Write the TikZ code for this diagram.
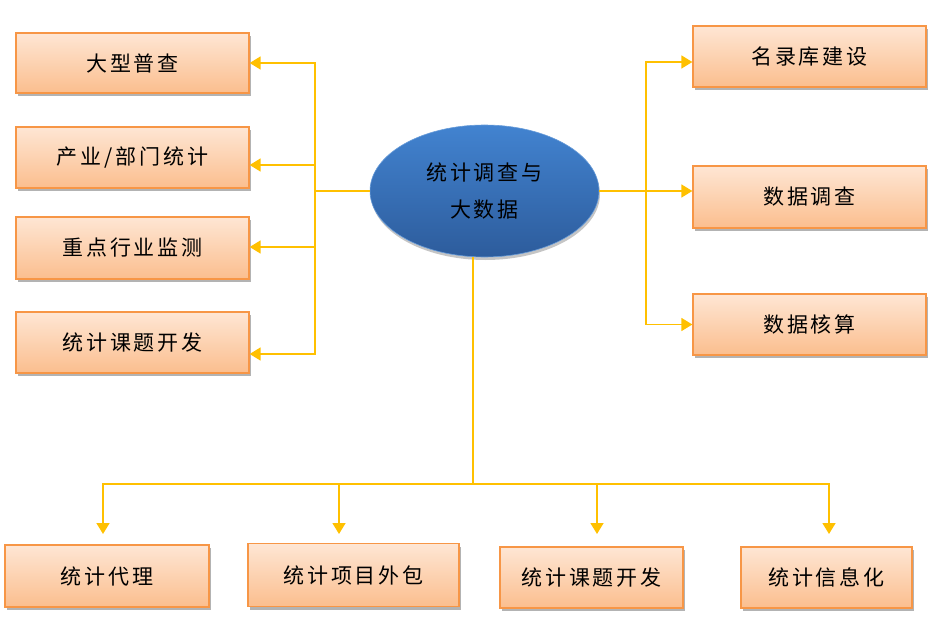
\documentclass[tikz,border=0pt]{standalone}
\usepackage{fontspec}
\newfontfamily\cjk[LetterSpace=14]{Noto Sans CJK SC}
\usetikzlibrary{arrows.meta,shadows,shapes.geometric}
\definecolor{lineY}{HTML}{FFC000}
\definecolor{boxB}{HTML}{F79646}
\definecolor{boxT}{HTML}{FEE6D4}
\definecolor{boxBot}{HTML}{FBBE8E}
\definecolor{ellT}{HTML}{4283D0}
\definecolor{ellB}{HTML}{2D5C9C}
\begin{document}
\begin{tikzpicture}[x=1pt,y=-1pt,
  box/.style={rectangle, draw=boxB, line width=1.3pt, top color=boxT, bottom color=boxBot,
    inner sep=0pt, font=\cjk\fontsize{21}{24}\selectfont,
    drop shadow={shadow xshift=1.5pt, shadow yshift=-3pt, fill=black!50, opacity=0.6}},
  hub/.style={ellipse, inner sep=0pt, top color=ellT, bottom color=ellB, draw=ellT!80!white, line width=0.6pt,
    align=center, font=\cjk\fontsize{21}{37}\selectfont,
    drop shadow={shadow xshift=1pt, shadow yshift=-3pt, fill=black!45, opacity=0.5}},
  conn/.style={draw=lineY, line width=1.6pt},
  arr/.style={conn, -{Triangle[length=11pt,width=13pt]}}]
\useasboundingbox (0,0) rectangle (933,631);

% central ellipse
\node[hub, minimum width=229pt, minimum height=132pt] (ell) at (484.5,191) {统计调查与\\大数据};

% left boxes
\node[box, minimum width=233pt, minimum height=60pt] (l1) at (132.5,63) {大型普查};
\node[box, minimum width=233pt, minimum height=61pt] (l2) at (132.5,157.5) {产业/部门统计};
\node[box, minimum width=233pt, minimum height=62pt] (l3) at (132.5,248) {重点行业监测};
\node[box, minimum width=233pt, minimum height=61pt] (l4) at (132.5,342.5) {统计课题开发};

% right boxes
\node[box, minimum width=233pt, minimum height=61pt] (r1) at (809.5,56.5) {名录库建设};
\node[box, minimum width=233pt, minimum height=62pt] (r2) at (809.5,197) {数据调查};
\node[box, minimum width=233pt, minimum height=61pt] (r3) at (809.5,324.5) {数据核算};

% bottom boxes
\node[box, minimum width=204pt, minimum height=62pt] (b1) at (107,576) {统计代理};
\node[box, minimum width=211pt, minimum height=63pt] (b2) at (353.5,575) {统计项目外包};
\node[box, minimum width=183pt, minimum height=61pt] (b3) at (591.5,577.5) {统计课题开发};
\node[box, minimum width=171pt, minimum height=61pt] (b4) at (826.5,577.5) {统计信息化};

% left connectors
\coordinate (lbus) at (315,191);
\draw[conn] (ell.west) -- (lbus);
\draw[arr] (lbus) |- (l1.east);
\draw[arr] (lbus) |- ([yshift=-7.5pt]l2.east);
\draw[arr] (lbus) |- ([yshift=1pt]l3.east);
\draw[arr] (lbus) |- ([yshift=-11.5pt]l4.east);

% right connectors
\coordinate (rbus) at (646,191);
\draw[conn] (ell.east) -- (rbus);
\draw[arr] (rbus) |- ([yshift=-5.5pt]r1.west);
\draw[arr] (rbus) |- ([yshift=6pt]r2.west);
\draw[arr] (rbus) |- (r3.west);

% bottom connectors
\coordinate (bhub) at (473,484);
\coordinate (d1) at (103,534);
\coordinate (d2) at (339,534);
\coordinate (d3) at (597,534);
\coordinate (d4) at (829,534);
\draw[conn] ([xshift=-11.5pt]ell.south) -- (bhub);
\draw[arr] (bhub) -| (d1);
\draw[arr] (bhub) -| (d2);
\draw[arr] (bhub) -| (d3);
\draw[arr] (bhub) -| (d4);
\end{tikzpicture}
\end{document}
